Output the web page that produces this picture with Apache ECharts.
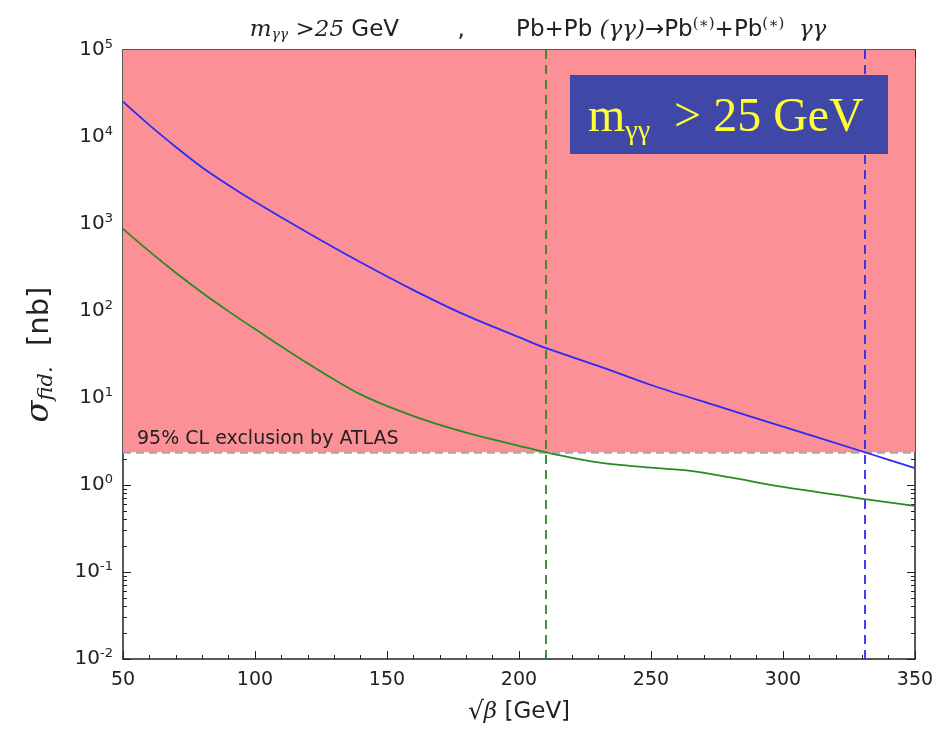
<!DOCTYPE html>
<html>
<head>
<meta charset="utf-8">
<script src="https://cdn.jsdelivr.net/npm/echarts@6/dist/echarts.min.js"></script>
<style>
  html, body { margin: 0; padding: 0; background: #fff; }
  #chart { width: 947px; height: 730px; }
</style>
</head>
<body>
<div id="chart"></div>
<script>
// sqrt(beta) in GeV
var blueX = [50, 60, 70, 80, 90, 100, 120, 140, 160, 180, 200, 210, 230, 250, 275, 300, 331, 350];
var blueY = [25470, 13680, 7690, 4470, 2790, 1800, 794, 363, 174, 89, 50, 37.6, 23.4, 14.1, 8.1, 4.68, 2.38, 1.56];
var greenX = [50, 60, 70, 80, 90, 100, 120, 140, 160, 180, 200, 210, 230, 250, 265, 280, 300, 331, 350];
var greenY = [880, 484, 275, 162, 99, 62, 25, 11, 6.2, 4.0, 2.82, 2.38, 1.82, 1.58, 1.45, 1.22, 0.95, 0.69, 0.575];
var atlasLimit = 2.38;
var greenCut = 210;
var blueCut = 331;

function pairs(xs, ys) {
    var out = [];
    for (var i = 0; i < xs.length; i++) out.push([xs[i], ys[i]]);
    return out;
}

var chart = echarts.init(document.getElementById('chart'));
var font = 'DejaVu Sans';
var supRich = {
    sup: { fontSize: 13, verticalAlign: 'top', padding: [0, 0, 11, 0], fontFamily: font, color: '#222' }
};

var option = {
    animation: false,
    backgroundColor: '#fff',
    title: {
        text: '{i|m}{s|γγ} {n|>25} GeV        ,       Pb+Pb {n|(γγ)}→Pb{p|(∗)}+Pb{p|(∗)}  {n|γγ}',
        left: 533,
        textAlign: 'center',
        top: 12,
        textStyle: {
            fontFamily: font, fontSize: 23, fontWeight: 'normal', color: '#222',
            rich: {
                i: { fontFamily: 'DejaVu Serif', fontStyle: 'italic', fontSize: 23, color: '#222' },
                s: { fontFamily: 'DejaVu Serif', fontStyle: 'italic', fontSize: 14, color: '#222', padding: [10, 0, 0, 0] },
                n: { fontFamily: 'DejaVu Serif', fontStyle: 'italic', fontSize: 23, color: '#222' },
                p: { fontFamily: 'DejaVu Serif', fontSize: 15, color: '#222', padding: [0, 0, 12, 0] }
            }
        }
    },
    grid: { left: 123, right: 32, top: 50, bottom: 67 },
    xAxis: [{
        type: 'value', min: 50, max: 350, interval: 50,
        name: '{r|√}{b|β} [GeV]', nameLocation: 'middle', nameGap: 41,
        nameTextStyle: {
            fontFamily: font, fontSize: 23, color: '#222',
            rich: {
                r: { fontFamily: font, fontSize: 25, color: '#222' },
                b: { fontFamily: 'DejaVu Serif', fontStyle: 'italic', fontSize: 23, color: '#222' }
            }
        },
        axisLine: { lineStyle: { color: '#222', width: 1.5 } },
        axisTick: { inside: true, length: 8, lineStyle: { color: '#222' } },
        minorTick: { show: true, splitNumber: 5, length: 4, lineStyle: { color: '#222' } },
        axisLabel: { fontFamily: font, fontSize: 19, color: '#222', margin: 12 },
        splitLine: { show: false }
    }, {
        type: 'value', min: 50, max: 350, interval: 50, position: 'top',
        axisLine: { lineStyle: { color: '#222', width: 1.5 } },
        axisTick: { inside: true, length: 8, lineStyle: { color: '#222' } },
        minorTick: { show: true, splitNumber: 5, length: 4, lineStyle: { color: '#222' } },
        axisLabel: { show: false },
        splitLine: { show: false }
    }],
    yAxis: [{
        type: 'log', logBase: 10, min: 0.01, max: 100000,
        name: '{s|σ}{f|fid.}  [nb]', nameLocation: 'middle', nameGap: 66, nameRotate: 90,
        nameTextStyle: {
            fontFamily: font, fontSize: 29, color: '#222',
            rich: {
                s: { fontFamily: 'DejaVu Serif', fontStyle: 'italic', fontSize: 32, color: '#222' },
                f: { fontFamily: 'DejaVu Serif', fontStyle: 'italic', fontSize: 21, color: '#222', padding: [13, 2, 0, 0] }
            }
        },
        axisLine: { show: true, lineStyle: { color: '#222', width: 1.5 } },
        axisTick: { inside: true, length: 8, lineStyle: { color: '#222' } },
        minorTick: { show: true, splitNumber: 9, length: 4, lineStyle: { color: '#222' } },
        axisLabel: {
            fontFamily: font, fontSize: 20, color: '#222', margin: 10,
            formatter: function (v) {
                var e = Math.round(Math.log10(v));
                return '10{sup|' + e + '}';
            },
            rich: supRich
        },
        splitLine: { show: false }
    }, {
        type: 'log', logBase: 10, min: 0.01, max: 100000, position: 'right',
        axisLine: { show: true, lineStyle: { color: '#222', width: 1.5 } },
        axisTick: { inside: true, length: 8, lineStyle: { color: '#222' } },
        minorTick: { show: true, splitNumber: 9, length: 4, lineStyle: { color: '#222' } },
        axisLabel: { show: false },
        splitLine: { show: false }
    }],
    graphic: [{
        type: 'rect', left: 570, top: 75, z: 10,
        shape: { width: 318, height: 79 },
        style: { fill: '#3f48a6' }
    }, {
        type: 'text', left: 588, top: 94, z: 11,
        style: {
            text: '{m|m}{g|γγ}{m|  > 25 GeV}',
            rich: {
                m: { fontFamily: 'Liberation Serif', fontSize: 48, fill: '#ffff33' },
                g: { fontFamily: 'Liberation Serif', fontSize: 28, fill: '#ffff33', padding: [27, 0, 0, 0] }
            }
        }
    }],
    series: [{
        name: 'limit',
        type: 'line',
        data: [],
        silent: true,
        markArea: {
            silent: true,
            itemStyle: { color: '#fb9197', opacity: 1 },
            data: [[{ xAxis: 50, yAxis: atlasLimit }, { xAxis: 350, yAxis: 100000 }]]
        },
        markLine: {
            silent: true,
            symbol: 'none',
            lineStyle: { color: '#a8a8a8', type: [8, 5], width: 2.5 },
            label: {
                show: true, position: 'insideStartTop', distance: [14, 4],
                formatter: '95% CL exclusion by ATLAS',
                fontFamily: font, fontSize: 19, color: '#222'
            },
            data: [{ yAxis: atlasLimit }]
        }
    }, {
        name: 'blue',
        type: 'line',
        data: pairs(blueX, blueY),
        smooth: 0.3,
        showSymbol: false,
        lineStyle: { color: '#2b2bf5', width: 1.8 },
        z: 5,
        markLine: {
            silent: true, symbol: 'none', label: { show: false },
            lineStyle: { color: '#2b2bf5', type: [9, 6], width: 1.8 },
            data: [{ xAxis: blueCut }]
        }
    }, {
        name: 'green',
        type: 'line',
        data: pairs(greenX, greenY),
        smooth: 0.3,
        showSymbol: false,
        lineStyle: { color: '#2a8a22', width: 1.8 },
        z: 5,
        markLine: {
            silent: true, symbol: 'none', label: { show: false },
            lineStyle: { color: '#2a8a22', type: [9, 6], width: 1.8 },
            data: [{ xAxis: greenCut }]
        }
    }]
};
chart.setOption(option);
</script>
</body>
</html>
